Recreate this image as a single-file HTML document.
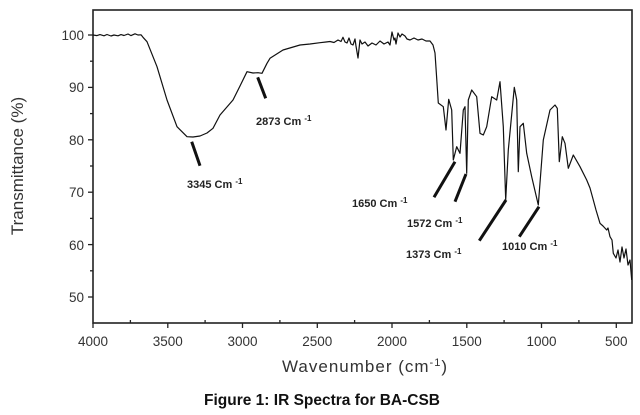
<!DOCTYPE html>
<html><head><meta charset="utf-8"><style>
body{margin:0;background:#fff;}
svg{display:block;font-family:"Liberation Sans",Arial,sans-serif;}
</style></head><body>
<svg width="640" height="415" viewBox="0 0 640 415">
<rect x="93" y="10" width="539" height="313" fill="none" stroke="#222" stroke-width="1.6"/>
<g stroke="#222" stroke-width="1.3">
<line x1="88" y1="35" x2="93" y2="35"/><line x1="88" y1="87.4" x2="93" y2="87.4"/><line x1="88" y1="139.8" x2="93" y2="139.8"/><line x1="88" y1="192.2" x2="93" y2="192.2"/><line x1="88" y1="244.6" x2="93" y2="244.6"/><line x1="88" y1="297" x2="93" y2="297"/>
<line x1="90" y1="61.2" x2="93" y2="61.2"/><line x1="90" y1="113.6" x2="93" y2="113.6"/><line x1="90" y1="166" x2="93" y2="166"/><line x1="90" y1="218.4" x2="93" y2="218.4"/><line x1="90" y1="270.8" x2="93" y2="270.8"/>
<line x1="93" y1="323" x2="93" y2="328"/><line x1="167.8" y1="323" x2="167.8" y2="328"/><line x1="242.5" y1="323" x2="242.5" y2="328"/><line x1="317.3" y1="323" x2="317.3" y2="328"/><line x1="392" y1="323" x2="392" y2="328"/><line x1="466.8" y1="323" x2="466.8" y2="328"/><line x1="541.5" y1="323" x2="541.5" y2="328"/><line x1="616.3" y1="323" x2="616.3" y2="328"/>
<line x1="130.4" y1="323" x2="130.4" y2="320"/><line x1="205.1" y1="323" x2="205.1" y2="320"/><line x1="279.9" y1="323" x2="279.9" y2="320"/><line x1="354.6" y1="323" x2="354.6" y2="320"/><line x1="429.4" y1="323" x2="429.4" y2="320"/><line x1="504.1" y1="323" x2="504.1" y2="320"/><line x1="578.9" y1="323" x2="578.9" y2="320"/>
</g>
<g font-size="13.5" fill="#333" text-anchor="end">
<text x="84" y="40">100</text><text x="84" y="92">90</text><text x="84" y="145">80</text><text x="84" y="197">70</text><text x="84" y="250">60</text><text x="84" y="302">50</text>
</g>
<g font-size="13.5" fill="#333" text-anchor="middle">
<text x="93" y="346">4000</text><text x="167.8" y="346">3500</text><text x="242.5" y="346">3000</text><text x="317.3" y="346">2500</text><text x="392" y="346">2000</text><text x="466.8" y="346">1500</text><text x="541.5" y="346">1000</text><text x="616.3" y="346">500</text>
</g>
<text x="365" y="372" font-size="17" fill="#333" text-anchor="middle" letter-spacing="1">Wavenumber (cm<tspan font-size="11" dy="-6">-1</tspan><tspan dy="6">)</tspan></text>
<text transform="translate(23,166) rotate(-90)" font-size="17" fill="#333" text-anchor="middle">Transmittance (%)</text>
<text x="322" y="405" font-size="15.5" font-weight="bold" fill="#111" text-anchor="middle">Figure 1: IR Spectra for BA-CSB</text>
<polyline fill="none" stroke="#111" stroke-width="1.2" stroke-linejoin="round" points="
93,35 97,35.6 100,34.6 104,35.8 107,34.5 111,36 114,35 118,35.8 121,34.6 124,35.5 128,34 131,35.6 135,33.8 138,35 141,34.8 143,37.3 147,41.7 157,66.7 167,100 177,126.7 187,136.7 193,137 200,136 207,133 213,128.3 220,115 233,100 240,86 247,71.7 253,73 258,72.7 262,73.3 267,63.3 270,58.3 283,50 300,45 310,44 320,42.7 326,42 330,41.5 334,42.5 338,40 341,41.5 343,37.3 345,42 347,43 349,38 351,44 353,45 355,39 356,46 358,58 360,40 362,44 365,42 368,46 372,43 376,45 380,41 384,44 388,42 390,45 392,32 394,40 395,38 396,44 398,33 400,37 402,34 405,36 407,39 410,40 414,38 418,40 422,39 426,41 430,41 433,45 435,53 437,83 438.3,103 443.3,106.7 446,130 448.7,99.3 451.7,110 453.3,160 456.7,146.7 460,153.3 463.3,110 465,106.7 466.7,173.3 468.3,100 471.7,90 476.7,96.7 480,133.3 483.3,135 486.7,126.7 491.7,96.7 496.7,100 500,81.7 503.3,126.7 505.7,200 508.3,150 514.3,87.3 516.7,100 518.3,171.7 520,126.7 523.3,123.3 526.7,153.3 531.7,176.7 538.3,205 543.3,140 550,110 555,105 557.3,108.3 559.3,161.7 562.3,136.7 565,143.3 568.3,168.3 573.3,155 580,166.7 586.7,180 590,188 593.3,200 596,210 600,223.3 603,226 606.7,230 608,228 610,236.7 612,240 613.3,253.3 616,258 618,250 620,262 622,247 624,258 626,249 628,265 630,260 631.7,280"/>
<g stroke="#111" stroke-width="3">
<line x1="191.7" y1="141.7" x2="200" y2="165.7"/>
<line x1="257.7" y1="77.3" x2="265.7" y2="98.3"/>
<line x1="455" y1="161.7" x2="434" y2="197.3"/>
<line x1="466" y1="174" x2="455" y2="201.7"/>
<line x1="506" y1="200" x2="479.3" y2="240.7"/>
<line x1="539" y1="206.7" x2="519.3" y2="236.7"/>
</g>
<g font-size="11" font-weight="bold" fill="#222">
<text x="187" y="188">3345 Cm <tspan font-size="8" dy="-4">-1</tspan></text>
<text x="256" y="125">2873 Cm <tspan font-size="8" dy="-4">-1</tspan></text>
<text x="352" y="207">1650 Cm <tspan font-size="8" dy="-4">-1</tspan></text>
<text x="407" y="227">1572 Cm <tspan font-size="8" dy="-4">-1</tspan></text>
<text x="406" y="258">1373 Cm <tspan font-size="8" dy="-4">-1</tspan></text>
<text x="502" y="250">1010 Cm <tspan font-size="8" dy="-4">-1</tspan></text>
</g>
</svg>
</body></html>
